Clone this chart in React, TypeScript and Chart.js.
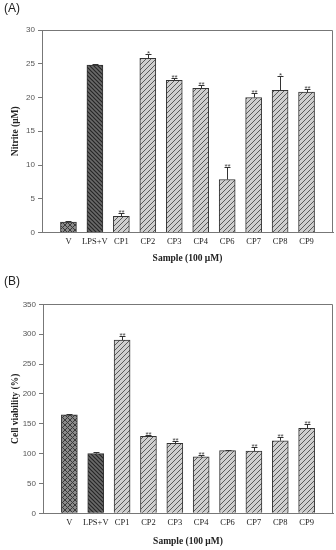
import React, { useEffect, useRef } from 'react';
import { Chart, registerables } from 'chart.js';
Chart.register(...registerables);

const categories = ['V', 'LPS+V', 'CP1', 'CP2', 'CP3', 'CP4', 'CP6', 'CP7', 'CP8', 'CP9'];

const nitriteValues = [1.55, 24.8, 2.4, 25.8, 22.55, 21.35, 7.85, 20.0, 21.05, 20.8];
const nitriteErrors = [0.1, 0.15, 0.45, 0.6, 0.3, 0.55, 1.9, 0.7, 2.1, 0.5];
const nitriteMarks = ['', '', '**', '*', '**', '**', '**', '**', '*', '**'];
const nitriteTicks = [0, 5, 10, 15, 20, 25, 30];

const viabilityValues = [165, 100, 290, 129, 117, 94.5, 105, 104, 121.5, 142.5];
const viabilityErrors = [1, 2, 7, 1.5, 4.5, 3.5, 1, 7.5, 6.5, 7.5];
const viabilityMarks = ['', '', '**', '**', '**', '**', '', '**', '**', '**'];
const viabilityTicks = [0, 50, 100, 150, 200, 250, 300, 350];

function makePattern(kind: string): CanvasPattern | string {
  const c = document.createElement('canvas');
  const s = kind === 'dark' ? 4 : 5;
  c.width = s; c.height = s;
  const g = c.getContext('2d')!;
  if (kind === 'cross') {
    g.fillStyle = '#8a8a8a'; g.fillRect(0, 0, s, s);
    g.strokeStyle = '#3a3a3a'; g.lineWidth = 1;
    g.beginPath();
    g.moveTo(0, 0); g.lineTo(s, s);
    g.moveTo(0, s); g.lineTo(s, 0);
    g.stroke();
  } else if (kind === 'dark') {
    g.fillStyle = '#6a6a6a'; g.fillRect(0, 0, s, s);
    g.strokeStyle = '#262626'; g.lineWidth = 1.2;
    g.beginPath();
    g.moveTo(-1, -1); g.lineTo(s + 1, s + 1);
    g.moveTo(-1, s - 1); g.lineTo(1, s + 1);
    g.moveTo(s - 1, -1); g.lineTo(s + 1, 1);
    g.stroke();
  } else {
    g.fillStyle = '#cfcfcf'; g.fillRect(0, 0, s, s);
    g.strokeStyle = '#5a5a5a'; g.lineWidth = 1;
    g.beginPath();
    g.moveTo(-1, s + 1); g.lineTo(s + 1, -1);
    g.moveTo(-1, 1); g.lineTo(1, -1);
    g.moveTo(s - 1, s + 1); g.lineTo(s + 1, s - 1);
    g.stroke();
  }
  return g.createPattern(c, 'repeat') || '#ccc';
}

function annotPlugin(errors: number[], marks: string[]) {
  return {
    id: 'annot',
    afterDatasetsDraw(chart: any) {
      const { ctx, chartArea, scales } = chart;
      const x = scales.x, y = scales.y;
      const values = chart.data.datasets[0].data.map((d: any) => d.y);
      ctx.save();
      ctx.strokeStyle = '#777';
      ctx.lineWidth = 1;
      ctx.beginPath();
      ctx.moveTo(Math.round(chartArea.left), Math.round(chartArea.top) + 0.5);
      ctx.lineTo(Math.round(chartArea.right) - 0.5, Math.round(chartArea.top) + 0.5);
      ctx.lineTo(Math.round(chartArea.right) - 0.5, Math.round(chartArea.bottom));
      ctx.stroke();
      ctx.strokeStyle = '#333';
      values.forEach((v: number, i: number) => {
        const px = Math.round(x.getPixelForValue(i)) + 0.5;
        const yTop = y.getPixelForValue(v);
        const yErr = Math.round(y.getPixelForValue(v + errors[i])) + 0.5;
        ctx.beginPath();
        ctx.moveTo(px, yTop);
        ctx.lineTo(px, yErr);
        ctx.moveTo(px - 3, yErr);
        ctx.lineTo(px + 3, yErr);
        ctx.stroke();
        if (marks[i]) {
          ctx.fillStyle = '#444';
          ctx.font = '8px "Liberation Sans"';
          ctx.textAlign = 'center';
          ctx.textBaseline = 'alphabetic';
          ctx.fillText(marks[i], px, yErr + 1.5);
        }
      });
      ctx.restore();
    },
  };
}

type Cfg = {
  values: number[];
  errors: number[];
  marks: string[];
  ticks: number[];
  yTitle: string;
  padTop: number;
  yWidth: number;
  xHeight: number;
  xTitlePad: number;
};

function BarChart(props: Cfg) {
  const ref = useRef<HTMLCanvasElement>(null);
  useEffect(() => {
    const p = props;
    const cross = makePattern('cross');
    const dark = makePattern('dark');
    const light = makePattern('light');
    const bg = categories.map((_, i) => (i === 0 ? cross : i === 1 ? dark : light));
    const chart = new Chart(ref.current!, {
      type: 'bar',
      data: {
        datasets: [
          {
            data: p.values.map((v, i) => ({ x: i, y: v })),
            backgroundColor: bg as any,
            borderColor: '#333',
            borderWidth: 1,
            barThickness: 16,
          },
        ],
      },
      options: {
        responsive: false,
        animation: false,
        layout: { padding: { top: p.padTop, right: 3, left: 0, bottom: 0 } },
        plugins: { legend: { display: false }, tooltip: { enabled: false } },
        scales: {
          x: {
            type: 'linear',
            offset: false,
            min: -1,
            max: categories.length,
            afterBuildTicks: (s: any) => {
              s.ticks = categories.map((_, i) => ({ value: i }));
            },
            afterFit: (s: any) => {
              s.height = p.xHeight;
            },
            grid: { display: false, drawTicks: false, tickLength: 0, offset: false },
            border: { color: '#777' },
            ticks: {
              autoSkip: false,
              maxRotation: 0,
              padding: 4,
              color: '#222',
              font: { family: 'Liberation Serif', size: 8.5 },
              callback: (v: any) => categories[v] ?? '',
            },
            title: {
              display: true,
              text: 'Sample (100 μM)',
              color: '#222',
              font: { family: 'Liberation Serif', size: 9.5, weight: 'bold' },
              padding: { top: 0, bottom: p.xTitlePad },
            },
          },
          y: {
            min: 0,
            max: p.ticks[p.ticks.length - 1],
            afterBuildTicks: (s: any) => {
              s.ticks = p.ticks.map((v) => ({ value: v }));
            },
            afterFit: (s: any) => {
              s.width = p.yWidth;
            },
            grid: { drawOnChartArea: false, drawTicks: true, tickLength: 4, color: '#777' },
            border: { color: '#777' },
            ticks: {
              padding: 3,
              color: '#555',
              font: { family: 'Liberation Sans', size: 8 },
            },
            title: {
              display: true,
              text: p.yTitle,
              color: '#222',
              font: { family: 'Liberation Serif', size: 9.5, weight: 'bold' },
              padding: { top: 10, bottom: 0 },
            },
          },
        },
      },
      plugins: [annotPlugin(p.errors, p.marks)],
    });
    return () => chart.destroy();
  }, []);
  return <canvas ref={ref} width={336} height={275} style={{ display: 'block' }} />;
}

export default function App() {
  const label: React.CSSProperties = {
    position: 'absolute',
    left: 4,
    font: '12px "Liberation Sans"',
    color: '#222',
    lineHeight: '14px',
  };
  return (
    <div style={{ position: 'absolute', left: 0, top: 0, width: 336, height: 550, background: '#fff' }}>
      <BarChart
        values={nitriteValues}
        errors={nitriteErrors}
        marks={nitriteMarks}
        ticks={nitriteTicks}
        yTitle="Nitrite (μM)"
        padTop={30}
        yWidth={42}
        xHeight={42.5}
        xTitlePad={11}
      />
      <BarChart
        values={viabilityValues}
        errors={viabilityErrors}
        marks={viabilityMarks}
        ticks={viabilityTicks}
        yTitle="Cell viability (%)"
        padTop={29.3}
        yWidth={43}
        xHeight={36.7}
        xTitlePad={2.6}
      />
      <div style={{ ...label, top: 1 }}>(A)</div>
      <div style={{ ...label, top: 274 }}>(B)</div>
    </div>
  );
}
